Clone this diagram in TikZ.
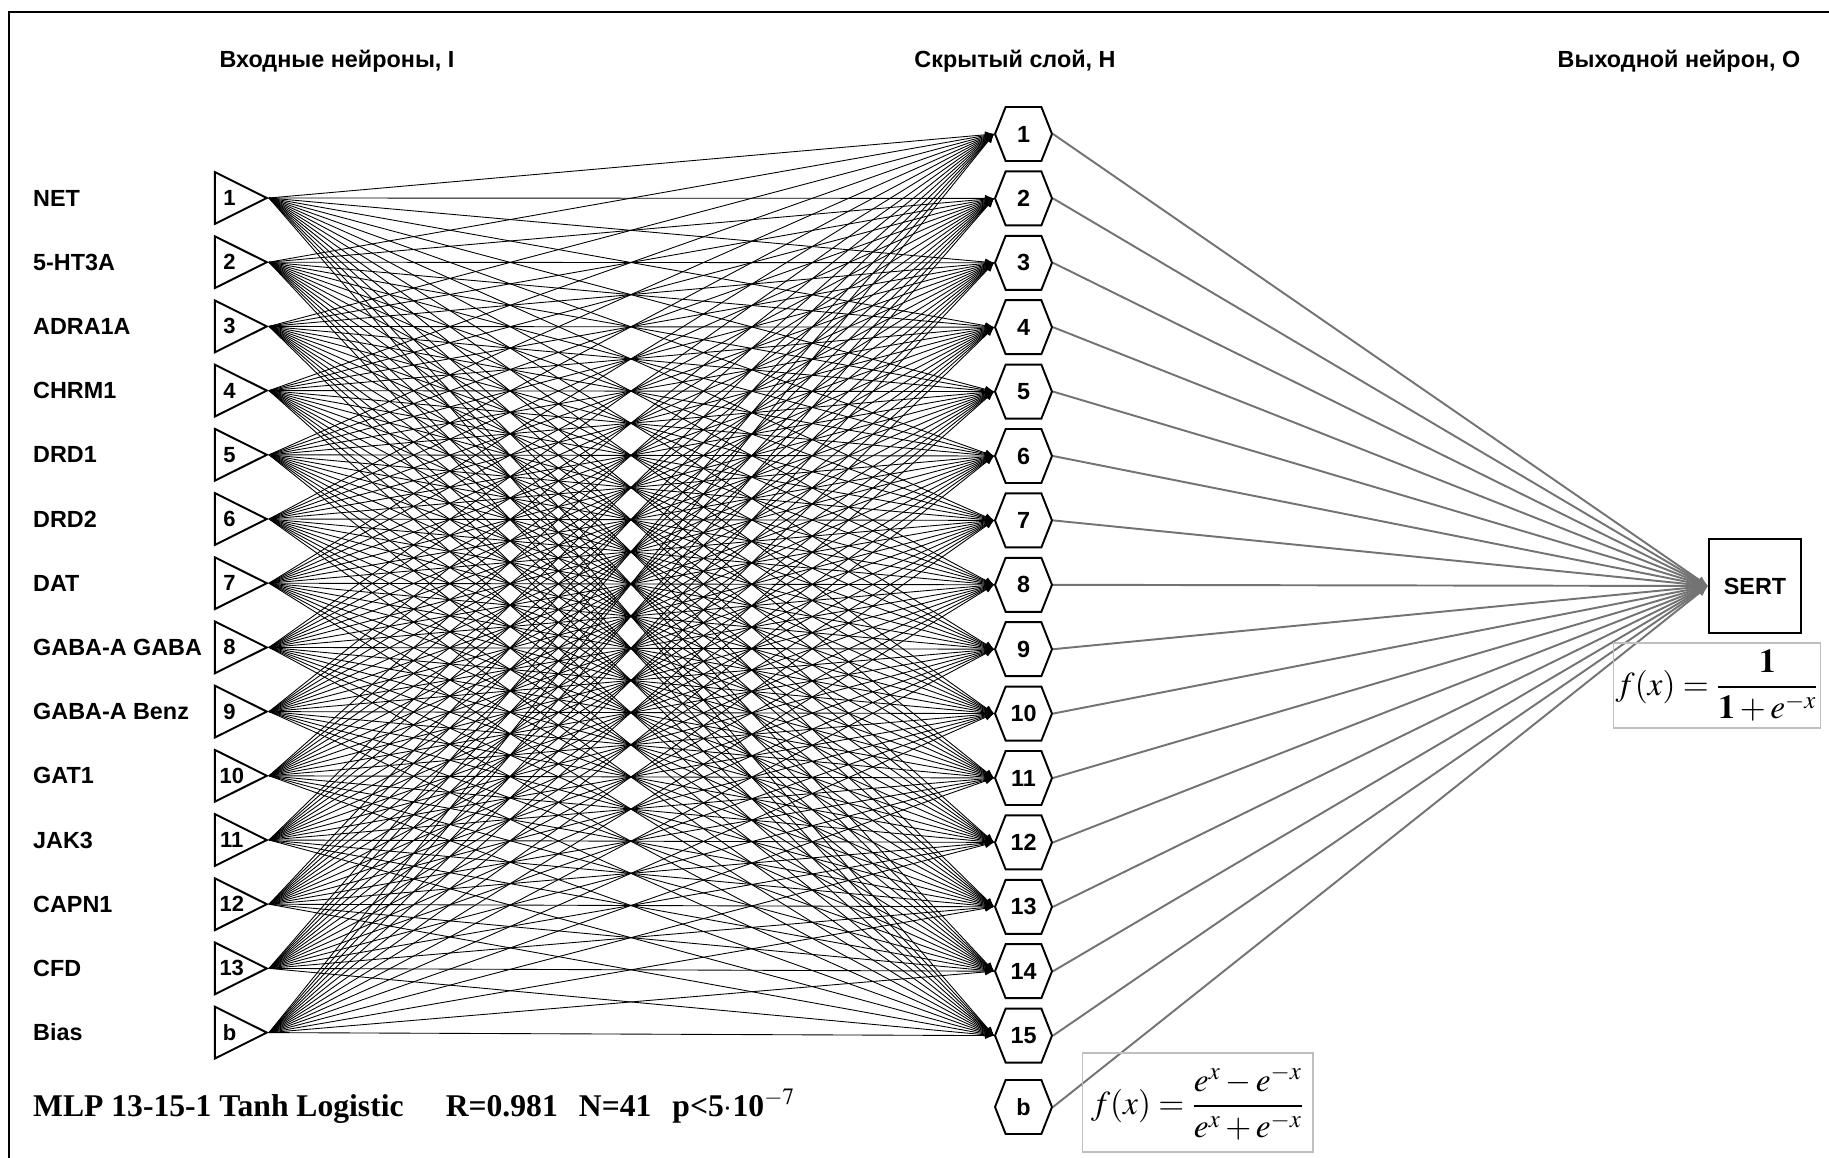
\documentclass[tikz,border=0pt]{standalone}
\usepackage{mathptmx}
\usepackage{fontspec}
\setmainfont{Liberation Serif}
\setsansfont{Liberation Sans}
\usetikzlibrary{%
  shapes.geometric,%
  shapes.symbols,%
  arrows.meta%
}
\tikzset{
  lbl/.style={font=\sffamily\bfseries\fontsize{13.3}{15}\selectfont},
  inneuron/.style={draw,line width=1.1pt,isosceles triangle,isosceles triangle apex angle=53,
    minimum height=1.04cm,inner xsep=1.5pt,inner ysep=0pt,anchor=apex,
    font=\sffamily\bfseries\fontsize{12.5}{14}\selectfont},
  hidneuron/.style={draw,line width=1.1pt,signal,signal to=west and east,signal pointer angle=137,
    minimum width=1.14cm,minimum height=1.08cm,inner sep=0pt,
    font=\sffamily\bfseries\fontsize{13.3}{15}\selectfont},
  outneuron/.style={draw,line width=1.1pt,minimum width=1.84cm,minimum height=1.88cm,lbl},
  fbox/.style={draw=black!25,line width=0.6pt,inner sep=1pt,font=\fontsize{19}{22}\selectfont},
  wi/.style={line width=0.5pt,-{Latex[length=5pt,width=4pt]}},
  wo/.style={draw=black!55,line width=1.1pt,-{Latex[length=6pt,width=5pt]}}
}

\begin{document}
\begin{tikzpicture}[x=0.02cm,y=-0.02cm]
\useasboundingbox (0,0) rectangle (1829,1158);
\draw[line width=1.4pt] (1829,12) -- (9,12) -- (9,1158);

\node[lbl] (hin) at (337,61) {Входные нейроны, I};
\node[lbl] (hhid) at (1015,61) {Скрытый слой, H};
\node[lbl] (hout) at (1679,61) {Выходной нейрон, O};

\foreach \nm/\id [count=\k] in {NET/1,5-HT3A/2,ADRA1A/3,CHRM1/4,DRD1/5,DRD2/6,DAT/7,%
  GABA-A GABA/8,GABA-A Benz/9,GAT1/10,JAK3/11,CAPN1/12,CFD/13,Bias/b}{
  \node[inneuron] (i\id) at (269,{198+(\k-1)*64.2}) {\id};
  \node[lbl,anchor=west] (l\id) at (27,{198+(\k-1)*64.2}) {\nm};
}
\foreach \id [count=\k] in {1,...,15}
  \node[hidneuron] (h\id) at (1023.5,{134+(\k-1)*64.4}) {\id};
\node[hidneuron] (hb) at (1023.5,1107) {b};
\node[outneuron] (o) at (1755,586) {SERT};

\foreach \i in {1,...,13,b}
  \foreach \j in {1,...,15}
    \draw[wi] (i\i.apex) -- (h\j.west);
\foreach \j in {1,...,15,b}
  \draw[wo] (h\j.east) -- (o.west);

\node[fbox,minimum width=4.12cm,minimum height=1.7cm] (flog) at (1717,685.5)
  {$\displaystyle f(x)=\frac{\mathbf{1}}{\mathbf{1}+e^{-x}}$};
\node[fbox,minimum width=4.62cm,minimum height=1.98cm] (ftanh) at (1197.5,1102.5)
  {$\displaystyle f(x)=\frac{e^{x}-e^{-x}}{e^{x}+e^{-x}}$};

\node[anchor=west,font=\bfseries\fontsize{18}{20}\selectfont] (cap) at (27,1106)
  {MLP 13-15-1 Tanh Logistic\hspace{24pt}R=0.981\hspace{12pt}N=41\hspace{12pt}p<5$\cdot$10$^{-7}$};
\end{tikzpicture}
\end{document}
